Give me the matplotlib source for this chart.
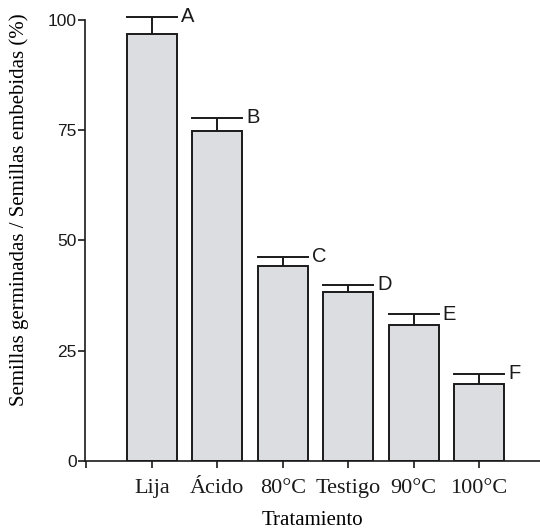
import matplotlib
matplotlib.use('Agg')
import matplotlib.pyplot as plt

# Data
treatments = ['Lija', 'Ácido', '80°C', 'Testigo', '90°C', '100°C']
means = [96.8, 74.8, 44.3, 38.3, 30.8, 17.4]
errors = [3.9, 3.0, 2.0, 1.7, 2.5, 2.4]
letters = ['A', 'B', 'C', 'D', 'E', 'F']

serif = ['Liberation Serif', 'DejaVu Serif']
sans = ['Liberation Sans', 'DejaVu Sans']

fig = plt.figure(figsize=(5.4, 5.3), dpi=100)
ax = fig.add_axes([0.1574, 0.1302, 0.8426, 0.8321])

x = list(range(1, len(treatments) + 1))
width = 0.765
ax.bar(x, means, width=width, color='#dcdde0', edgecolor='#1a1a1a',
       linewidth=1.4, zorder=2)
ax.errorbar(x, means, yerr=[[0] * len(errors), errors], fmt='none',
            ecolor='#1a1a1a', elinewidth=1.4, capsize=0, zorder=3,
            clip_on=False)
for xi, m, e, lab in zip(x, means, errors, letters):
    ax.plot([xi - width / 2, xi + width / 2], [m + e, m + e],
            color='#1a1a1a', lw=1.4, clip_on=False, zorder=3)
    ax.annotate(lab, (xi + width / 2, m + e), xytext=(3, 0),
                textcoords='offset points', ha='left', va='center',
                fontsize=14.5, family=sans, color='#1a1a1a',
                annotation_clip=False)

ax.set_xlim(-0.02, 6.93)
ax.set_ylim(0, 100)
ax.set_yticks([0, 25, 50, 75, 100])
ax.set_yticklabels(['0', '25', '50', '75', '100'], family=sans, fontsize=12.5)
ax.set_xticks([0] + x)
ax.set_xticklabels([''] + treatments, family=serif, fontsize=16)

for s in ['top', 'right']:
    ax.spines[s].set_visible(False)
for s in ['left', 'bottom']:
    ax.spines[s].set_linewidth(1.2)
    ax.spines[s].set_color('#1a1a1a')
ax.tick_params(axis='both', direction='out', length=5, width=1.2,
               color='#1a1a1a', labelcolor='#1a1a1a')
ax.tick_params(axis='y', pad=1)
ax.tick_params(axis='x', pad=8)

ax.set_xlabel('Tratamiento', family=serif, fontsize=15)
ax.set_ylabel('Semillas germinadas / Semillas embebidas (%)', family=serif,
              fontsize=15)
ax.xaxis.set_label_coords(0.5, -0.113)
ax.yaxis.set_label_coords(-0.123, 0.569)

fig.savefig('out.png', dpi=100)
